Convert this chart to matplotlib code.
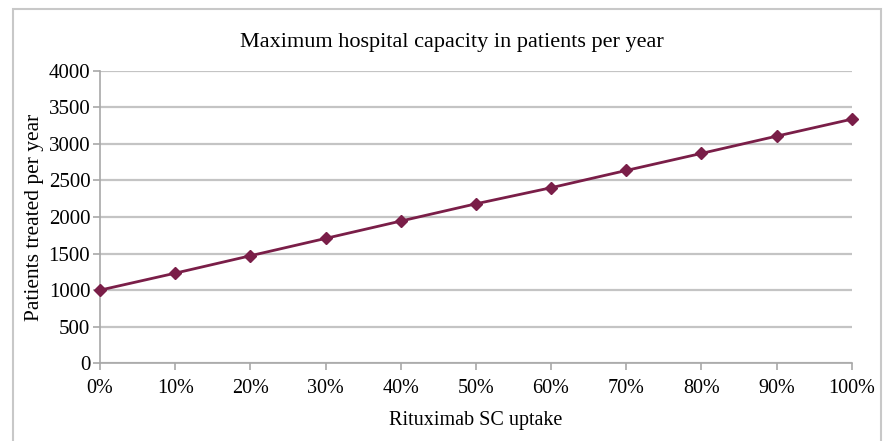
import matplotlib
matplotlib.use("Agg")
import matplotlib.pyplot as plt
from matplotlib.patches import Rectangle

plt.rcParams["font.family"] = ["Liberation Serif", "DejaVu Serif"]

uptake = [0, 10, 20, 30, 40, 50, 60, 70, 80, 90, 100]
patients = [1000, 1232, 1470, 1707, 1944, 2180, 2400, 2636, 2869, 3105, 3337]
x_labels = [f"{u}%" for u in uptake]

line_color = "#7a1e48"
grid_color = "#c4c4c4"

fig = plt.figure(figsize=(8.85, 4.41), dpi=100)
ax = fig.add_axes([100 / 885, 77.7 / 441, 751.7 / 885, 292.6 / 441])

ax.plot(uptake, patients, color=line_color, linewidth=2, marker="D",
        markersize=6, zorder=5, clip_on=False)

ax.set_xlim(0, 100)
ax.set_ylim(0, 4000)
ax.set_xticks(uptake)
ax.set_xticklabels(x_labels)
ax.set_yticks(range(0, 4001, 500))

ax.yaxis.grid(True, color=grid_color, linewidth=1.6)
ax.set_axisbelow(True)
for s in ["top", "right"]:
    ax.spines[s].set_visible(False)
for s in ["left", "bottom"]:
    ax.spines[s].set_color("#a8a8a8")
    ax.spines[s].set_linewidth(1.2)
ax.tick_params(axis="both", colors="#a8a8a8", labelcolor="black",
               labelsize=15, length=5, width=1.2, pad=2)
ax.tick_params(axis="x", labelsize=14.5, pad=6)

ax.set_title("Maximum hospital capacity in patients per year",
             fontsize=16, pad=17, x=0.468)
ax.set_xlabel("Rituximab SC uptake", fontsize=14.5, labelpad=10)
ax.set_ylabel("Patients treated per year", fontsize=15.5, labelpad=3)

# light frame around the chart area
fig.patches.append(Rectangle((13 / 885, -0.05), 868 / 885, 0.05 + 432 / 441,
                             transform=fig.transFigure, fill=False,
                             edgecolor="#c8c8c8", linewidth=1.5))

fig.savefig("out.png", dpi=100)
